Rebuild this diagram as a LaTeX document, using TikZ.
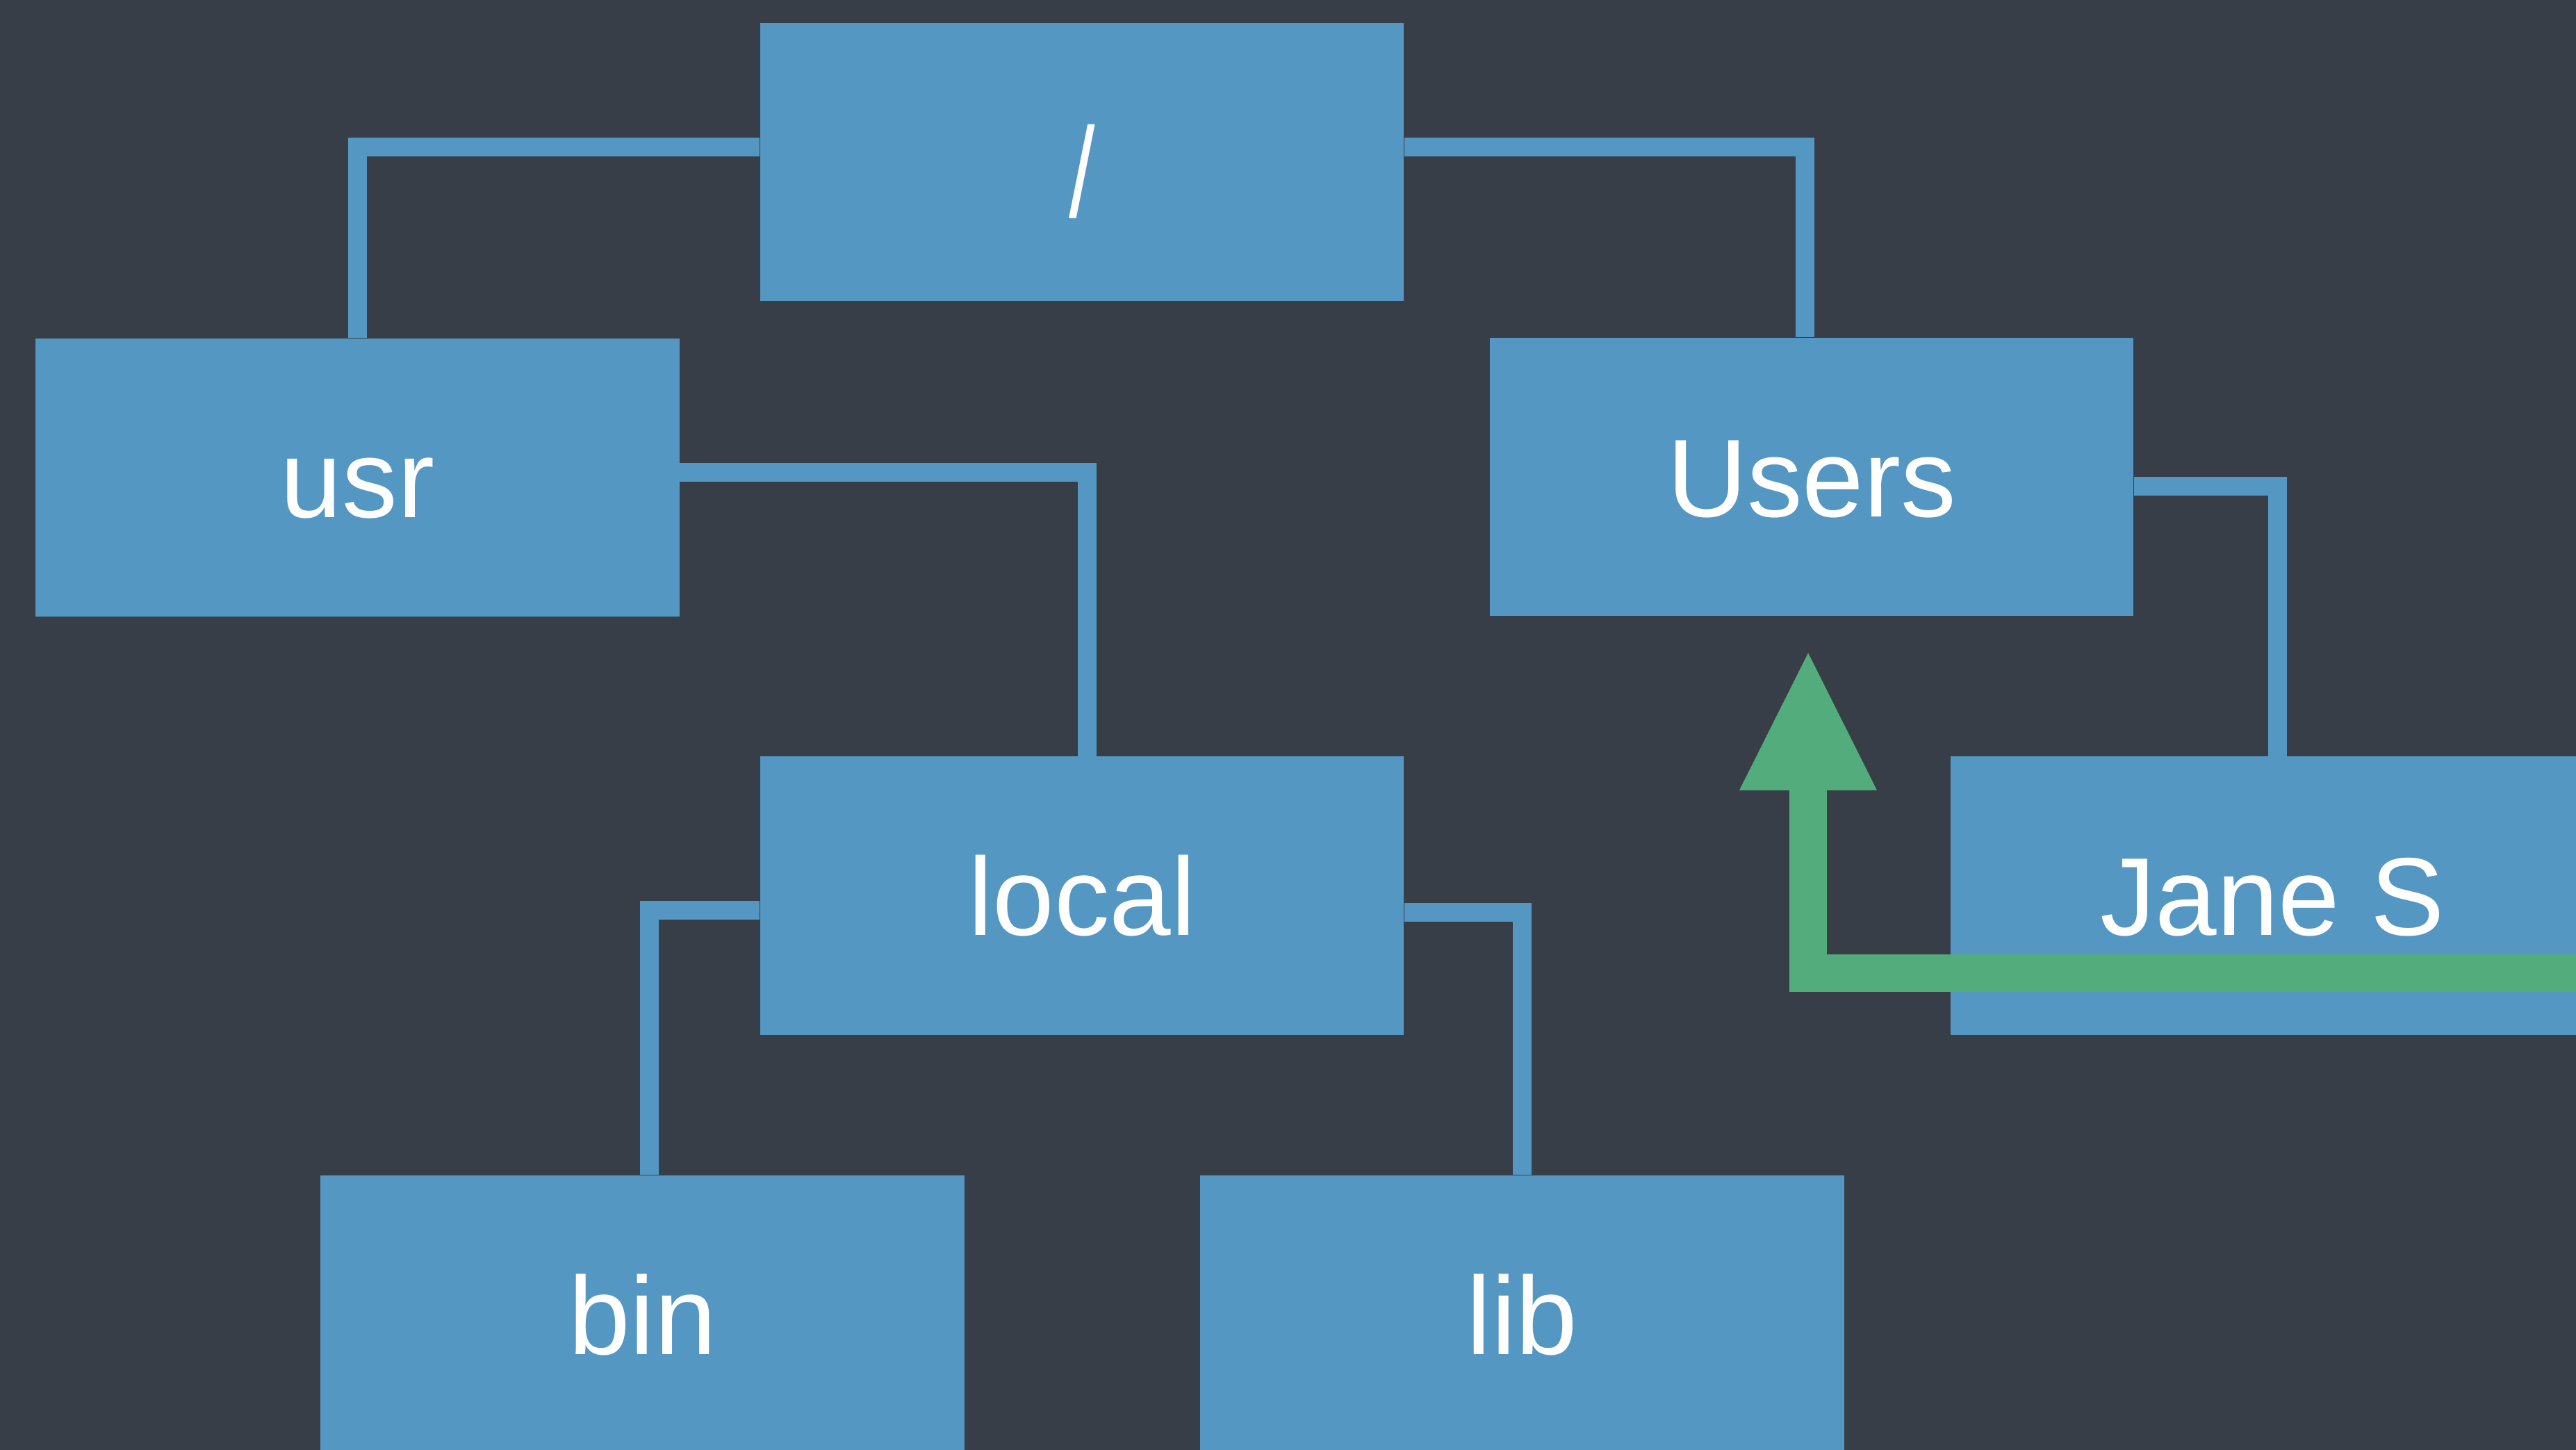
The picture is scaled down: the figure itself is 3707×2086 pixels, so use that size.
\documentclass[tikz,border=0pt]{standalone}
\usepackage{fontspec}
\setmainfont{Liberation Sans}
\usetikzlibrary{arrows.meta}
\definecolor{bgdark}{RGB}{55,62,71}
\definecolor{boxblue}{RGB}{84,151,194}
\definecolor{arrgreen}{RGB}{83,172,123}
\begin{document}
\begin{tikzpicture}[x=0.01cm,y=-0.01cm,
  dirbox/.style={rectangle, fill=boxblue, draw=none, minimum width=9.26cm, minimum height=4cm,
    inner sep=0pt, text=white, font=\fontsize{45.3}{54}\selectfont, text height=1.14cm, text depth=0pt},
  link/.style={draw=boxblue, line width=0.27cm, line join=miter, miter limit=10},
  goup/.style={draw=arrgreen, line width=0.54cm, line join=miter, miter limit=10,
    -{Triangle[length=1.975cm,width=1.98cm,line width=0pt]}}]
\useasboundingbox (0,0) rectangle (3707,2086);
\clip (0,0) rectangle (3707,2086);
\fill[bgdark] (0,0) rectangle (3707,2086);

\node[dirbox] (root)  at (1557,233)    {\raisebox{-0.225cm}{\scalebox{0.85}[1.155]{/}}};
\node[dirbox] (usr)   at (514.5,687)   {usr};
\node[dirbox] (Users) at (2607,686)    {Users};
\node[dirbox] (local) at (1557,1288.5) {local};
\node[dirbox] (Jane)  at (3270,1288.5) {Jane S};
\node[dirbox] (bin)   at (924.5,1891)  {bin};
\node[dirbox] (lib)   at (2190.5,1891) {lib};

\draw[link] ([yshift=0.215cm]root.west) -| (usr.north);
\draw[link] ([yshift=0.215cm]root.east) -| ([xshift=-0.1cm]Users.north);
\draw[link] ([yshift=0.075cm]usr.east) -| ([xshift=0.075cm]local.north);
\draw[link] ([yshift=-0.135cm]Users.east) -| ([xshift=0.07cm]Jane.north);
\draw[link] ([yshift=-0.205cm]local.west) -| ([xshift=0.1cm]bin.north);
\draw[link] ([yshift=-0.235cm]local.east) -| (lib.north);

\draw[goup] ([yshift=-1.115cm]Jane.east) -| ([yshift=-0.525cm,xshift=-0.05cm]Users.south);
\end{tikzpicture}
\end{document}
